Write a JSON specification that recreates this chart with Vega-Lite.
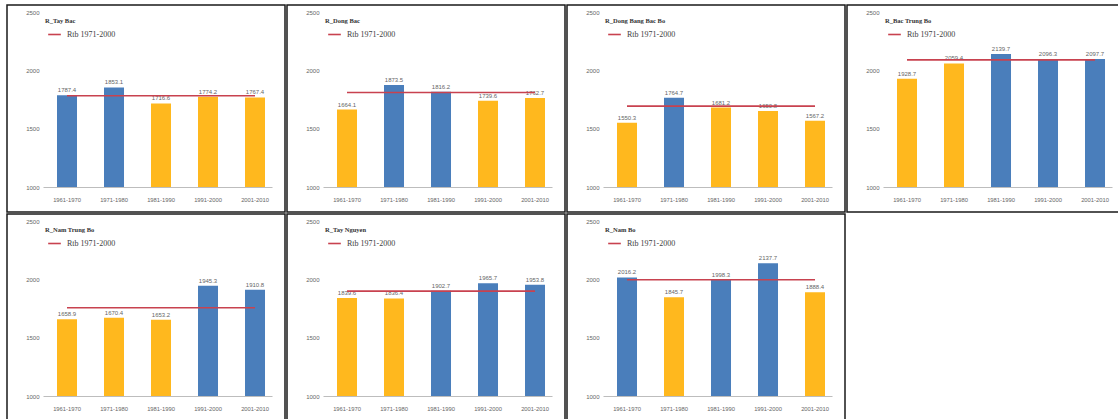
{
  "$schema": "https://vega.github.io/schema/vega-lite/v6.json",
  "padding": {"left": 6, "top": 4, "right": 0, "bottom": 0},
  "data": {
    "values": [
      {"region": "R_Tay Bac", "period": "1961-1970", "value": 1787.4, "avg": 1782},
      {"region": "R_Tay Bac", "period": "1971-1980", "value": 1853.1, "avg": 1782},
      {"region": "R_Tay Bac", "period": "1981-1990", "value": 1716.6, "avg": 1782},
      {"region": "R_Tay Bac", "period": "1991-2000", "value": 1774.2, "avg": 1782},
      {"region": "R_Tay Bac", "period": "2001-2010", "value": 1767.4, "avg": 1782},
      {"region": "R_Dong Bac", "period": "1961-1970", "value": 1664.1, "avg": 1810},
      {"region": "R_Dong Bac", "period": "1971-1980", "value": 1873.5, "avg": 1810},
      {"region": "R_Dong Bac", "period": "1981-1990", "value": 1816.2, "avg": 1810},
      {"region": "R_Dong Bac", "period": "1991-2000", "value": 1739.6, "avg": 1810},
      {"region": "R_Dong Bac", "period": "2001-2010", "value": 1762.7, "avg": 1810},
      {"region": "R_Dong Bang Bac Bo", "period": "1961-1970", "value": 1550.3, "avg": 1693},
      {"region": "R_Dong Bang Bac Bo", "period": "1971-1980", "value": 1764.7, "avg": 1693},
      {"region": "R_Dong Bang Bac Bo", "period": "1981-1990", "value": 1681.2, "avg": 1693},
      {"region": "R_Dong Bang Bac Bo", "period": "1991-2000", "value": 1650.8, "avg": 1693},
      {"region": "R_Dong Bang Bac Bo", "period": "2001-2010", "value": 1567.2, "avg": 1693},
      {"region": "R_Bac Trung Bo", "period": "1961-1970", "value": 1928.7, "avg": 2090},
      {"region": "R_Bac Trung Bo", "period": "1971-1980", "value": 2059.4, "avg": 2090},
      {"region": "R_Bac Trung Bo", "period": "1981-1990", "value": 2139.7, "avg": 2090},
      {"region": "R_Bac Trung Bo", "period": "1991-2000", "value": 2096.3, "avg": 2090},
      {"region": "R_Bac Trung Bo", "period": "2001-2010", "value": 2097.7, "avg": 2090},
      {"region": "R_Nam Trung Bo", "period": "1961-1970", "value": 1658.9, "avg": 1756},
      {"region": "R_Nam Trung Bo", "period": "1971-1980", "value": 1670.4, "avg": 1756},
      {"region": "R_Nam Trung Bo", "period": "1981-1990", "value": 1653.2, "avg": 1756},
      {"region": "R_Nam Trung Bo", "period": "1991-2000", "value": 1945.3, "avg": 1756},
      {"region": "R_Nam Trung Bo", "period": "2001-2010", "value": 1910.8, "avg": 1756},
      {"region": "R_Tay Nguyen", "period": "1961-1970", "value": 1839.6, "avg": 1899},
      {"region": "R_Tay Nguyen", "period": "1971-1980", "value": 1836.4, "avg": 1899},
      {"region": "R_Tay Nguyen", "period": "1981-1990", "value": 1902.7, "avg": 1899},
      {"region": "R_Tay Nguyen", "period": "1991-2000", "value": 1965.7, "avg": 1899},
      {"region": "R_Tay Nguyen", "period": "2001-2010", "value": 1953.8, "avg": 1899},
      {"region": "R_Nam Bo", "period": "1961-1970", "value": 2016.2, "avg": 1996},
      {"region": "R_Nam Bo", "period": "1971-1980", "value": 1845.7, "avg": 1996},
      {"region": "R_Nam Bo", "period": "1981-1990", "value": 1998.3, "avg": 1996},
      {"region": "R_Nam Bo", "period": "1991-2000", "value": 2137.7, "avg": 1996},
      {"region": "R_Nam Bo", "period": "2001-2010", "value": 1888.4, "avg": 1996}
    ]
  },
  "columns": 4,
  "spacing": 0,
  "resolve": {"scale": {"color": "independent"}, "legend": {"color": "independent"}},
  "concat": [
    {
      "width": 278, "height": 207,
      "title": "R_Tay Bac",
      "transform": [{"filter": "datum.region === 'R_Tay Bac'"}],
      "encoding": {
        "x": {"field": "period", "type": "nominal", "sort": null, "title": null,
              "scale": {"range": [36, 265], "paddingInner": 0.5745, "paddingOuter": 0.2234, "align": 0.667}},
        "y": {"field": "value", "type": "quantitative", "title": null,
              "scale": {"domain": [786, 2560], "nice": false, "zero": false},
              "axis": {"values": [1000, 1500, 2000, 2500], "format": "d"}}
      },
      "layer": [
        {"mark": "bar", "encoding": {"y2": {"datum": 1000}, "color": {"condition": {"test": "datum.value > datum.avg", "value": "#4a7ebb"}, "value": "#ffb81e"}}},
        {"mark": {"type": "text", "dy": -5, "fontSize": 6, "color": "#666666", "font": "Liberation Sans"}, "encoding": {"text": {"field": "value", "format": ".1f"}}},
        {"mark": {"type": "line", "strokeWidth": 1.6}, "encoding": {"y": {"field": "avg", "type": "quantitative"},
          "color": {"datum": "Rtb 1971-2000", "scale": {"range": ["#c8424f"]},
            "legend": {"orient": "none", "legendX": 40, "legendY": 22, "title": null, "labelColor": "#404040"}}}}
      ]
    },
    {
      "width": 278, "height": 207,
      "title": "R_Dong Bac",
      "transform": [{"filter": "datum.region === 'R_Dong Bac'"}],
      "encoding": {
        "x": {"field": "period", "type": "nominal", "sort": null, "title": null,
              "scale": {"range": [36, 265], "paddingInner": 0.5745, "paddingOuter": 0.2234, "align": 0.667}},
        "y": {"field": "value", "type": "quantitative", "title": null,
              "scale": {"domain": [786, 2560], "nice": false, "zero": false},
              "axis": {"values": [1000, 1500, 2000, 2500], "format": "d"}}
      },
      "layer": [
        {"mark": "bar", "encoding": {"y2": {"datum": 1000}, "color": {"condition": {"test": "datum.value > datum.avg", "value": "#4a7ebb"}, "value": "#ffb81e"}}},
        {"mark": {"type": "text", "dy": -5, "fontSize": 6, "color": "#666666", "font": "Liberation Sans"}, "encoding": {"text": {"field": "value", "format": ".1f"}}},
        {"mark": {"type": "line", "strokeWidth": 1.6}, "encoding": {"y": {"field": "avg", "type": "quantitative"},
          "color": {"datum": "Rtb 1971-2000", "scale": {"range": ["#c8424f"]},
            "legend": {"orient": "none", "legendX": 40, "legendY": 22, "title": null, "labelColor": "#404040"}}}}
      ]
    },
    {
      "width": 278, "height": 207,
      "title": "R_Dong Bang Bac Bo",
      "transform": [{"filter": "datum.region === 'R_Dong Bang Bac Bo'"}],
      "encoding": {
        "x": {"field": "period", "type": "nominal", "sort": null, "title": null,
              "scale": {"range": [36, 265], "paddingInner": 0.5745, "paddingOuter": 0.2234, "align": 0.667}},
        "y": {"field": "value", "type": "quantitative", "title": null,
              "scale": {"domain": [786, 2560], "nice": false, "zero": false},
              "axis": {"values": [1000, 1500, 2000, 2500], "format": "d"}}
      },
      "layer": [
        {"mark": "bar", "encoding": {"y2": {"datum": 1000}, "color": {"condition": {"test": "datum.value > datum.avg", "value": "#4a7ebb"}, "value": "#ffb81e"}}},
        {"mark": {"type": "text", "dy": -5, "fontSize": 6, "color": "#666666", "font": "Liberation Sans"}, "encoding": {"text": {"field": "value", "format": ".1f"}}},
        {"mark": {"type": "line", "strokeWidth": 1.6}, "encoding": {"y": {"field": "avg", "type": "quantitative"},
          "color": {"datum": "Rtb 1971-2000", "scale": {"range": ["#c8424f"]},
            "legend": {"orient": "none", "legendX": 40, "legendY": 22, "title": null, "labelColor": "#404040"}}}}
      ]
    },
    {
      "width": 278, "height": 207,
      "title": "R_Bac Trung Bo",
      "transform": [{"filter": "datum.region === 'R_Bac Trung Bo'"}],
      "encoding": {
        "x": {"field": "period", "type": "nominal", "sort": null, "title": null,
              "scale": {"range": [36, 265], "paddingInner": 0.5745, "paddingOuter": 0.2234, "align": 0.667}},
        "y": {"field": "value", "type": "quantitative", "title": null,
              "scale": {"domain": [786, 2560], "nice": false, "zero": false},
              "axis": {"values": [1000, 1500, 2000, 2500], "format": "d"}}
      },
      "layer": [
        {"mark": "bar", "encoding": {"y2": {"datum": 1000}, "color": {"condition": {"test": "datum.value > datum.avg", "value": "#4a7ebb"}, "value": "#ffb81e"}}},
        {"mark": {"type": "text", "dy": -5, "fontSize": 6, "color": "#666666", "font": "Liberation Sans"}, "encoding": {"text": {"field": "value", "format": ".1f"}}},
        {"mark": {"type": "line", "strokeWidth": 1.6}, "encoding": {"y": {"field": "avg", "type": "quantitative"},
          "color": {"datum": "Rtb 1971-2000", "scale": {"range": ["#c8424f"]},
            "legend": {"orient": "none", "legendX": 40, "legendY": 22, "title": null, "labelColor": "#404040"}}}}
      ]
    },
    {
      "width": 278, "height": 207,
      "title": "R_Nam Trung Bo",
      "transform": [{"filter": "datum.region === 'R_Nam Trung Bo'"}],
      "encoding": {
        "x": {"field": "period", "type": "nominal", "sort": null, "title": null,
              "scale": {"range": [36, 265], "paddingInner": 0.5745, "paddingOuter": 0.2234, "align": 0.667}},
        "y": {"field": "value", "type": "quantitative", "title": null,
              "scale": {"domain": [786, 2560], "nice": false, "zero": false},
              "axis": {"values": [1000, 1500, 2000, 2500], "format": "d"}}
      },
      "layer": [
        {"mark": "bar", "encoding": {"y2": {"datum": 1000}, "color": {"condition": {"test": "datum.value > datum.avg", "value": "#4a7ebb"}, "value": "#ffb81e"}}},
        {"mark": {"type": "text", "dy": -5, "fontSize": 6, "color": "#666666", "font": "Liberation Sans"}, "encoding": {"text": {"field": "value", "format": ".1f"}}},
        {"mark": {"type": "line", "strokeWidth": 1.6}, "encoding": {"y": {"field": "avg", "type": "quantitative"},
          "color": {"datum": "Rtb 1971-2000", "scale": {"range": ["#c8424f"]},
            "legend": {"orient": "none", "legendX": 40, "legendY": 22, "title": null, "labelColor": "#404040"}}}}
      ]
    },
    {
      "width": 278, "height": 207,
      "title": "R_Tay Nguyen",
      "transform": [{"filter": "datum.region === 'R_Tay Nguyen'"}],
      "encoding": {
        "x": {"field": "period", "type": "nominal", "sort": null, "title": null,
              "scale": {"range": [36, 265], "paddingInner": 0.5745, "paddingOuter": 0.2234, "align": 0.667}},
        "y": {"field": "value", "type": "quantitative", "title": null,
              "scale": {"domain": [786, 2560], "nice": false, "zero": false},
              "axis": {"values": [1000, 1500, 2000, 2500], "format": "d"}}
      },
      "layer": [
        {"mark": "bar", "encoding": {"y2": {"datum": 1000}, "color": {"condition": {"test": "datum.value > datum.avg", "value": "#4a7ebb"}, "value": "#ffb81e"}}},
        {"mark": {"type": "text", "dy": -5, "fontSize": 6, "color": "#666666", "font": "Liberation Sans"}, "encoding": {"text": {"field": "value", "format": ".1f"}}},
        {"mark": {"type": "line", "strokeWidth": 1.6}, "encoding": {"y": {"field": "avg", "type": "quantitative"},
          "color": {"datum": "Rtb 1971-2000", "scale": {"range": ["#c8424f"]},
            "legend": {"orient": "none", "legendX": 40, "legendY": 22, "title": null, "labelColor": "#404040"}}}}
      ]
    },
    {
      "width": 278, "height": 207,
      "title": "R_Nam Bo",
      "transform": [{"filter": "datum.region === 'R_Nam Bo'"}],
      "encoding": {
        "x": {"field": "period", "type": "nominal", "sort": null, "title": null,
              "scale": {"range": [36, 265], "paddingInner": 0.5745, "paddingOuter": 0.2234, "align": 0.667}},
        "y": {"field": "value", "type": "quantitative", "title": null,
              "scale": {"domain": [786, 2560], "nice": false, "zero": false},
              "axis": {"values": [1000, 1500, 2000, 2500], "format": "d"}}
      },
      "layer": [
        {"mark": "bar", "encoding": {"y2": {"datum": 1000}, "color": {"condition": {"test": "datum.value > datum.avg", "value": "#4a7ebb"}, "value": "#ffb81e"}}},
        {"mark": {"type": "text", "dy": -5, "fontSize": 6, "color": "#666666", "font": "Liberation Sans"}, "encoding": {"text": {"field": "value", "format": ".1f"}}},
        {"mark": {"type": "line", "strokeWidth": 1.6}, "encoding": {"y": {"field": "avg", "type": "quantitative"},
          "color": {"datum": "Rtb 1971-2000", "scale": {"range": ["#c8424f"]},
            "legend": {"orient": "none", "legendX": 40, "legendY": 22, "title": null, "labelColor": "#404040"}}}}
      ]
    }
  ],
  "config": {
    "view": {"stroke": "#1a1a1a", "strokeWidth": 1.5},
    "title": {"anchor": "start", "frame": "group", "offset": -19, "dx": 38, "font": "Liberation Serif", "fontSize": 6.5, "fontWeight": "bold", "color": "#333333"},
    "axisX": {"offset": -25, "domainColor": "#bdbdbd", "domainWidth": 1, "ticks": false, "grid": false, "labelAngle": 0, "labelPadding": 9, "labelFont": "Liberation Sans", "labelFontSize": 5.8, "labelColor": "#666666"},
    "axisY": {"offset": -35, "domain": false, "ticks": false, "grid": false, "labelPadding": 3, "labelFont": "Liberation Sans", "labelFontSize": 6, "labelColor": "#666666"},
    "legend": {"symbolType": "stroke", "symbolSize": 160, "symbolStrokeWidth": 1.6, "labelFont": "Liberation Serif", "labelFontSize": 8, "labelColor": "#404040", "padding": 0, "labelOffset": 5}
  }
}
